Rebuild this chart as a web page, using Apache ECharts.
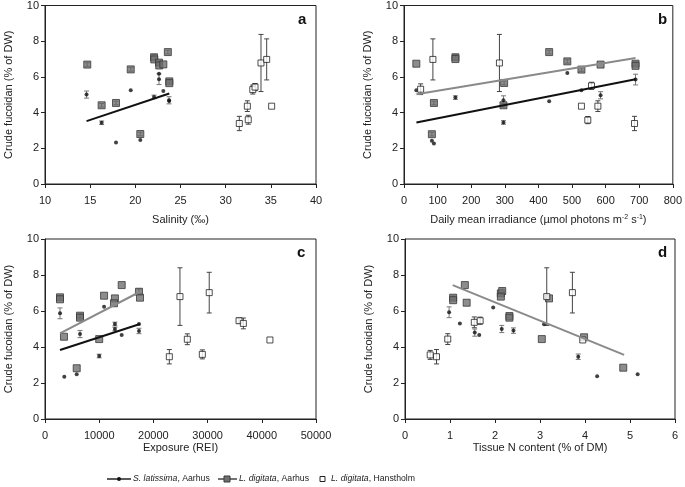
<!DOCTYPE html>
<html>
<head>
<meta charset="utf-8">
<script src="https://cdn.jsdelivr.net/npm/echarts@6/dist/echarts.min.js"></script>
<style>
  html, body { margin: 0; padding: 0; background: #fff; }
  #main { width: 685px; height: 487px; }
</style>
</head>
<body>
<div id="main"></div>
<script>
// [x, y, error] per point
// a: salinity
var salSlat = [[14.6,5.01,0.2],[16.27,3.43,0.1],[17.86,2.33,0],[19.49,5.25,0],[20.55,2.46,0],[22.07,4.88,0.1],[22.62,6.18,0],[22.62,5.87,0.3],[23.1,5.21,0],[23.73,4.69,0.2],[23.75,4.65,0]];
var salLdA = [[14.68,6.69,0.1],[16.27,4.41,0.1],[17.86,4.54,0.1],[19.49,6.42,0.1],[20.55,2.8,0.1],[22.07,7.1,0.15],[22.1,6.98,0],[22.62,6.8,0.1],[22.65,6.64,0],[23.1,6.7,0],[23.6,7.39,0.1],[23.76,5.75,0.1],[23.76,5.65,0]];
var salLdH = [[31.51,3.39,0.4],[32.5,3.6,0.25],[32.4,4.36,0.3],[33.0,5.29,0.25],[33.25,5.43,0.2],[33.91,6.78,1.6],[34.54,6.98,1.15],[35.09,4.36,0]];
var salSlatLine = [[14.6,3.52],[23.76,5.07]];

// b: irradiance
var irrSlat = [[36.7,5.25,0],[153,4.84,0.1],[296,4.69,0.25],[296,3.45,0.1],[83,2.42,0],[89,2.27,0],[432,4.64,0],[486,6.22,0],[528,5.25,0],[585,4.97,0.2],[689,5.85,0.3]];
var irrLdA = [[36.7,6.74,0],[89,4.54,0.1],[153,7.1,0.15],[153,7.0,0],[298,5.66,0.1],[296,4.41,0.1],[83,2.79,0.1],[432,7.39,0.1],[486,6.87,0.1],[528,6.41,0.1],[585,6.69,0],[689,6.74,0.1],[689,6.62,0]];
var irrLdH = [[86,6.98,1.15],[284,6.78,1.6],[49.5,5.31,0.3],[558,5.5,0.2],[528,4.36,0],[577,4.36,0.3],[547,3.58,0.2],[686,3.39,0.4]];
var irrSlatLine = [[37,3.45],[689,5.87]];
var irrLdALine = [[37,5.03],[689,7.06]];

// c: exposure
var expSlat = [[2770,5.87,0.3],[10000,3.5,0.1],[6460,4.72,0.2],[10900,6.24,0],[12900,5.28,0.1],[12900,5.0,0.1],[14150,4.67,0],[17340,5.28,0],[17340,4.89,0.15],[3560,2.35,0],[5850,2.48,0]];
var expLdA = [[2770,6.76,0.1],[2770,6.65,0],[3500,4.57,0],[6460,5.74,0.1],[6460,5.63,0],[10000,4.44,0],[10900,6.85,0],[12900,6.7,0],[12730,6.43,0],[14150,7.44,0],[17340,7.07,0.15],[17530,6.74,0],[5850,2.82,0]];
var expLdH = [[22940,3.46,0.4],[24900,6.8,1.6],[26260,4.43,0.3],[29030,3.59,0.25],[30300,7.02,1.13],[35800,5.46,0.15],[36600,5.31,0.3],[41500,4.39,0]];
var expSlatLine = [[2770,3.83],[17530,5.28]];
var expLdALine = [[2770,4.76],[17530,7.07]];

// d: tissue N
var nSlat = [[0.98,5.93,0.3],[1.22,5.31,0],[1.55,4.8,0.2],[1.65,4.67,0],[1.96,6.2,0],[2.15,5.0,0.2],[2.41,4.91,0.15],[3.09,5.26,0],[3.85,3.46,0.15],[4.27,2.37,0],[5.17,2.48,0]];
var nLdA = [[1.07,6.74,0.1],[1.07,6.6,0],[1.33,7.44,0],[1.37,6.46,0],[2.13,6.98,0],[2.16,7.11,0.1],[2.13,6.8,0],[2.32,5.72,0],[2.32,5.63,0],[3.04,4.44,0],[3.2,6.7,0],[3.98,4.54,0],[4.85,2.85,0]];
var nLdH = [[0.56,3.56,0.25],[0.7,3.46,0.4],[0.95,4.44,0.3],[1.54,5.37,0.3],[1.67,5.46,0.2],[3.15,6.8,1.6],[3.72,7.02,1.13],[3.95,4.39,0]];
var nLdALine = [[1.06,7.44],[4.87,3.56]];

var FONT = 'Liberation Sans, Arial, sans-serif';

var Chart = echarts.init(document.getElementById('main'));

function errSeries(gi, pts, col) {
  return {
    type: 'custom', xAxisIndex: gi, yAxisIndex: gi, z: 2, silent: true,
    encode: { x: 0, y: 1 },
    data: pts.filter(function (p) { return p[2] > 0; }),
    renderItem: function (params, api) {
      var x = api.value(0), y = api.value(1), e = api.value(2);
      var t = api.coord([x, y + e]), b = api.coord([x, y - e]);
      var w = 2.5, st = { stroke: col, lineWidth: 1 };
      return { type: 'group', children: [
        { type: 'line', shape: { x1: t[0], y1: t[1], x2: b[0], y2: b[1] }, style: st },
        { type: 'line', shape: { x1: t[0] - w, y1: t[1], x2: t[0] + w, y2: t[1] }, style: st },
        { type: 'line', shape: { x1: b[0] - w, y1: b[1], x2: b[0] + w, y2: b[1] }, style: st }
      ]};
    }
  };
}

function pts(gi, data, kind) {
  var s = { type: 'scatter', xAxisIndex: gi, yAxisIndex: gi, z: 3, silent: true,
    data: data.map(function (p) { return [p[0], p[1]]; }) };
  if (kind === 'slat') {
    s.name = 'S. latissima, Aarhus'; s.symbol = 'circle'; s.symbolSize = 4;
    s.itemStyle = { color: '#111' };
    return [errSeries(gi, data, '#777'), s];
  }
  if (kind === 'lda') {
    s.name = 'L. digitata, Aarhus'; s.symbol = 'rect'; s.symbolSize = 7;
    s.itemStyle = { color: '#707070', borderColor: '#3a3a3a', borderWidth: 1 };
    return [errSeries(gi, data, '#555'), s];
  }
  s.name = 'L. digitata, Hanstholm'; s.symbol = 'rect'; s.symbolSize = 6; s.z = 4;
  s.itemStyle = { color: '#fff', borderColor: '#222', borderWidth: 1 };
  return [errSeries(gi, data, '#444'), s];
}

function fit(gi, data, col) {
  return { type: 'line', xAxisIndex: gi, yAxisIndex: gi, z: 5, silent: true,
    data: data, showSymbol: false, symbol: 'none',
    lineStyle: { color: col, width: 2 } };
}

function xAx(gi, min, max, step, name, gap, rich) {
  var ax = {
    gridIndex: gi, type: 'value', min: min, max: max, interval: step,
    name: name, nameLocation: 'middle', nameGap: gap,
    nameTextStyle: { fontFamily: FONT, fontSize: 11, color: '#222' },
    axisLine: { lineStyle: { color: '#222' } },
    axisTick: { length: 4, lineStyle: { color: '#222' } },
    axisLabel: { fontFamily: FONT, fontSize: 11, color: '#222', margin: 11,
      formatter: function (v) { return String(v); } },
    splitLine: { show: false }
  };
  if (rich) ax.nameTextStyle.rich = rich;
  return ax;
}

function yAx(gi) {
  return {
    gridIndex: gi, type: 'value', min: 0, max: 10, interval: 2,
    name: 'Crude fucoidan (% of DW)', nameLocation: 'middle', nameGap: 31,
    nameTextStyle: { fontFamily: FONT, fontSize: 11, color: '#222' },
    axisLine: { lineStyle: { color: '#222' } },
    axisTick: { length: 4, lineStyle: { color: '#222' } },
    axisLabel: { fontFamily: FONT, fontSize: 11, color: '#222', margin: 6 },
    splitLine: { show: false }
  };
}

var supRich = {
  n: { fontFamily: FONT, fontSize: 11, color: '#222' },
  s: { fontFamily: FONT, fontSize: 7, color: '#222', verticalAlign: 'top', padding: [0, 0, 5, 0] }
};

var series = [].concat(
  pts(0, salLdA, 'lda'), pts(0, salSlat, 'slat'), pts(0, salLdH, 'ldh'),
  [fit(0, salSlatLine, '#111')],
  pts(1, irrLdA, 'lda'), pts(1, irrSlat, 'slat'), pts(1, irrLdH, 'ldh'),
  [fit(1, irrSlatLine, '#111'), fit(1, irrLdALine, '#8a8a8a')],
  pts(2, expLdA, 'lda'), pts(2, expSlat, 'slat'), pts(2, expLdH, 'ldh'),
  [fit(2, expSlatLine, '#111'), fit(2, expLdALine, '#8a8a8a')],
  pts(3, nLdA, 'lda'), pts(3, nSlat, 'slat'), pts(3, nLdH, 'ldh'),
  [fit(3, nLdALine, '#8a8a8a')]
);

var letter = function (t, x, y) {
  return { text: t, left: x, top: y, padding: 0,
    textStyle: { fontFamily: FONT, fontSize: 15, fontWeight: 'bold', color: '#111' } };
};

var lx = 479;
var option = {
  animation: false,
  backgroundColor: '#fff',
  title: [letter('a', 298, 12), letter('b', 658, 12), letter('c', 297, 245), letter('d', 658, 245)],
  grid: [
    { left: 45, top: 5, width: 271, height: 179, show: true, borderColor: '#222', borderWidth: 1 },
    { left: 404, top: 5, width: 270, height: 179, show: true, borderColor: '#222', borderWidth: 1 },
    { left: 45, top: 239, width: 271, height: 180, show: true, borderColor: '#222', borderWidth: 1 },
    { left: 405, top: 239, width: 270, height: 180, show: true, borderColor: '#222', borderWidth: 1 }
  ],
  xAxis: [
    xAx(0, 10, 40, 5, 'Salinity (‰)', 30),
    xAx(1, 0, 800, 100, '{n|Daily mean irradiance (µmol photons m}{s|-2}{n| s}{s|-1}{n|)}', 30, supRich),
    xAx(2, 0, 50000, 10000, 'Exposure (REI)', 23),
    xAx(3, 0, 6, 1, 'Tissue N content (% of DM)', 23)
  ],
  yAxis: [yAx(0), yAx(1), yAx(2), yAx(3)],
  series: series,
  graphic: [
    { type: 'line', shape: { x1: 107, y1: lx, x2: 131, y2: lx }, style: { stroke: '#222', lineWidth: 1.5 } },
    { type: 'circle', shape: { cx: 119, cy: lx, r: 2 }, style: { fill: '#111' } },
    { type: 'text', x: 133, y: lx, style: { text: '{i|S. latissima}, Aarhus', rich: { i: { fontStyle: 'italic', fontFamily: FONT, fontSize: 8.7 } },
      fontFamily: FONT, fontSize: 8.7, fill: '#222', verticalAlign: 'middle' } },
    { type: 'line', shape: { x1: 218, y1: lx, x2: 237, y2: lx }, style: { stroke: '#444', lineWidth: 1.5 } },
    { type: 'rect', shape: { x: 224, y: lx - 3, width: 6, height: 6 }, style: { fill: '#707070', stroke: '#3a3a3a', lineWidth: 1 } },
    { type: 'text', x: 239, y: lx, style: { text: '{i|L. digitata}, Aarhus', rich: { i: { fontStyle: 'italic', fontFamily: FONT, fontSize: 8.7 } },
      fontFamily: FONT, fontSize: 8.7, fill: '#222', verticalAlign: 'middle' } },
    { type: 'rect', shape: { x: 320, y: lx - 2.5, width: 5, height: 5 }, style: { fill: '#fff', stroke: '#222', lineWidth: 1 } },
    { type: 'text', x: 331, y: lx, style: { text: '{i|L. digitata}, Hanstholm', rich: { i: { fontStyle: 'italic', fontFamily: FONT, fontSize: 8.7 } },
      fontFamily: FONT, fontSize: 8.7, fill: '#222', verticalAlign: 'middle' } }
  ]
};

Chart.setOption(option);
</script>
</body>
</html>
